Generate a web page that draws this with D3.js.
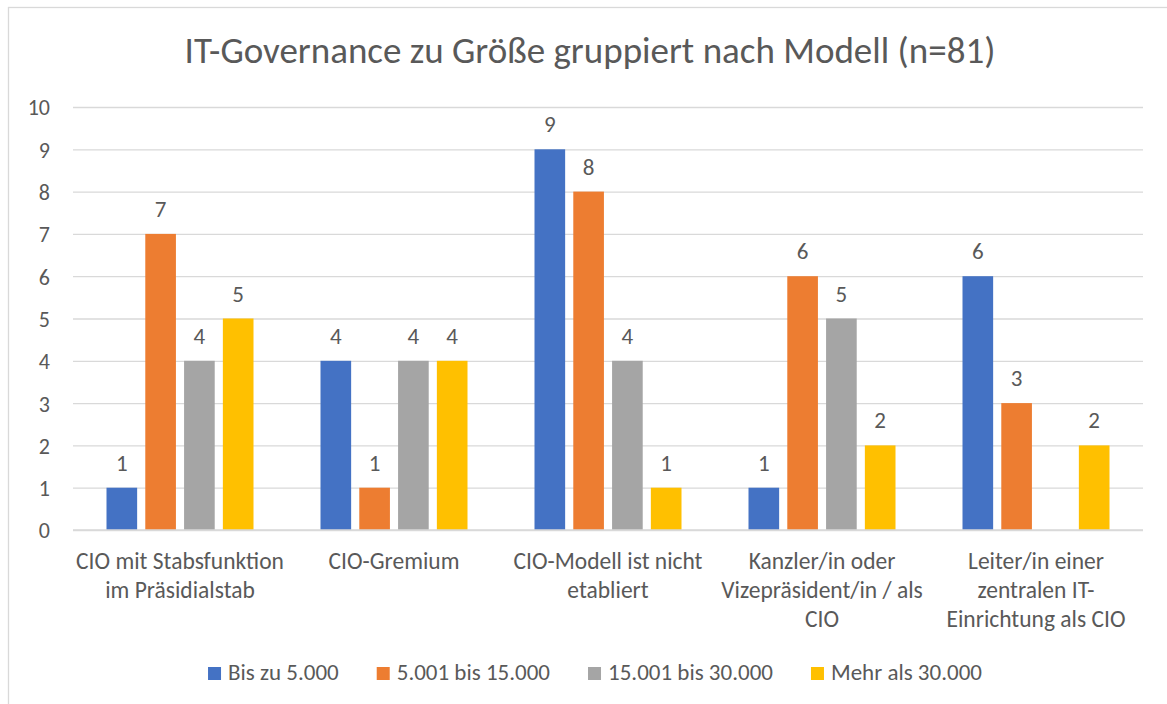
<!DOCTYPE html>
<html>
<head>
<meta charset="utf-8">
<script src="https://cdn.jsdelivr.net/npm/d3@7"></script>
<style>
  html, body { margin: 0; padding: 0; background: #fff; overflow: hidden; }
  svg { display: block; }
  text { font-family: Carlito, Lato, "Open Sans", sans-serif; fill: #595959; }
</style>
</head>
<body>
<svg id="chart" width="1167" height="704"></svg>
<script>
const title = "IT-Governance zu Größe gruppiert nach Modell (n=81)";
const categories = [
  "CIO mit Stabsfunktion\nim Präsidialstab",
  "CIO-Gremium",
  "CIO-Modell ist nicht\netabliert",
  "Kanzler/in oder\nVizepräsident/in / als\nCIO",
  "Leiter/in einer\nzentralen IT-\nEinrichtung als CIO"
];
const seriesNames = ["Bis zu 5.000", "5.001 bis 15.000", "15.001 bis 30.000", "Mehr als 30.000"];
const seriesColors = ["#4472C4", "#ED7D31", "#A5A5A5", "#FFC000"];
const bisZu5000 = [1, 4, 9, 1, 6];
const von5001bis15000 = [7, 1, 8, 6, 3];
const von15001bis30000 = [4, 4, 4, 5, null];
const mehrAls30000 = [5, 4, 1, 2, 2];
const seriesValues = [bisZu5000, von5001bis15000, von15001bis30000, mehrAls30000];
const yTicks = [0, 1, 2, 3, 4, 5, 6, 7, 8, 9, 10];

const svg = d3.select("#chart");
const plot = { left: 73, right: 1143, top: 107, bottom: 530 };

// chart border
svg.append("rect")
  .attr("x", 8.5).attr("y", 7.5)
  .attr("width", 1180).attr("height", 720)
  .attr("fill", "#fff").attr("stroke", "#d9d9d9").attr("stroke-width", 1.3);

// title
svg.append("text")
  .attr("x", 590).attr("y", 63)
  .attr("text-anchor", "middle")
  .style("font-size", "37px")
  .text(title);

const y = d3.scaleLinear().domain([0, 10]).range([plot.bottom, plot.top]);
const x0 = d3.scaleBand().domain(d3.range(categories.length)).range([plot.left, plot.right]).padding(0);
const outerGap = 33.5;
const x1 = d3.scaleBand().domain(d3.range(seriesNames.length))
  .range([outerGap, x0.bandwidth() - outerGap]).paddingInner(0.21).paddingOuter(0);

// gridlines + y labels
const yAxis = d3.axisLeft(y).tickValues(yTicks).tickSize(-(plot.right - plot.left)).tickPadding(23).tickFormat(d3.format("d"));
const gy = svg.append("g").attr("transform", `translate(${plot.left},0)`).call(yAxis);
gy.select(".domain").remove();
gy.selectAll(".tick line").attr("stroke", "#d9d9d9").attr("stroke-width", 1.3);
gy.selectAll(".tick text").style("font-size", "22px").attr("fill", "#595959").attr("dy", "0.36em");

// bars
const groups = svg.append("g").selectAll("g")
  .data(categories.map((c, i) => ({ c, i })))
  .join("g")
  .attr("transform", d => `translate(${x0(d.i)},0)`);

groups.selectAll("rect")
  .data(d => seriesValues.map((vals, s) => ({ s, v: vals[d.i] })).filter(e => e.v != null))
  .join("rect")
  .attr("x", e => x1(e.s))
  .attr("width", x1.bandwidth())
  .attr("y", e => y(e.v))
  .attr("height", e => y(0) - y(e.v))
  .attr("fill", e => seriesColors[e.s]);

groups.selectAll("text.lbl")
  .data(d => seriesValues.map((vals, s) => ({ s, v: vals[d.i] })).filter(e => e.v != null))
  .join("text")
  .attr("class", "lbl")
  .attr("x", e => x1(e.s) + x1.bandwidth() / 2)
  .attr("y", e => y(e.v) - 17)
  .attr("text-anchor", "middle")
  .style("font-size", "23px")
  .text(e => e.v);

// x axis baseline
svg.append("line")
  .attr("x1", plot.left).attr("x2", plot.right)
  .attr("y1", y(0)).attr("y2", y(0))
  .attr("stroke", "#d9d9d9").attr("stroke-width", 1.3);

// category labels
const catG = svg.append("g");
categories.forEach((c, i) => {
  const t = catG.append("text")
    .attr("text-anchor", "middle")
    .style("font-size", "23.5px");
  c.split("\n").forEach((line, k) => {
    t.append("tspan")
      .attr("x", x0(i) + x0.bandwidth() / 2)
      .attr("y", 569 + k * 29)
      .text(line);
  });
});

// legend
const legend = svg.append("g");
let cx = 0;
seriesNames.forEach((n, s) => {
  const g = legend.append("g").attr("transform", `translate(${cx},0)`);
  g.append("rect").attr("x", 0).attr("y", -13).attr("width", 13).attr("height", 13).attr("fill", seriesColors[s]);
  const t = g.append("text").attr("x", 20).attr("y", 0).style("font-size", "23px").text(n);
  const w = t.node().getComputedTextLength();
  cx += 20 + w + 38;
});
const totalW = cx - 38;
legend.attr("transform", `translate(${595 - totalW / 2},680)`);
</script>
</body>
</html>
